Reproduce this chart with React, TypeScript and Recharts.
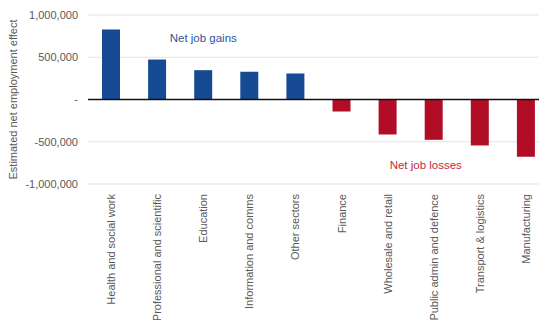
import { Bar, BarChart, CartesianGrid, Cell, ReferenceDot, ReferenceLine, XAxis, YAxis } from "recharts"

const sectors = [
  "Health and social work",
  "Professional and scientific",
  "Education",
  "Information and comms",
  "Other sectors",
  "Finance",
  "Wholesale and retail",
  "Public admin and defence",
  "Transport & logistics",
  "Manufacturing",
]

const effects = [828000, 473000, 347000, 328000, 308000, -142000, -414000, -477000, -544000, -678000]

const yTicks = [-1000000, -500000, 0, 500000, 1000000]

const data = sectors.map((name, i) => ({ name, value: effects[i] }))

const font = "'Liberation Sans', Arial, sans-serif"

const XTick = (props: any) => {
  const { x, y, payload } = props
  return (
    <text
      x={x}
      y={y + 2}
      transform={`rotate(-90, ${x}, ${y + 2})`}
      textAnchor="end"
      dominantBaseline="central"
      fontSize={11}
      fontFamily={font}
      fill="#595959"
    >
      {payload.value}
    </text>
  )
}

const YLabel = (props: any) => {
  const vb = props.viewBox
  const cx = vb.x + 13
  const cy = vb.y + vb.height / 2
  return (
    <text
      x={cx}
      y={cy}
      transform={`rotate(-90, ${cx}, ${cy})`}
      textAnchor="middle"
      dominantBaseline="central"
      fontSize={11}
      fontFamily={font}
      fill="#595959"
    >
      Estimated net employment effect
    </text>
  )
}

export default function App() {
  return (
    <div style={{ position: "fixed", left: 0, top: 0, width: 539, height: 320, overflow: "hidden", background: "#fff" }}>
      <BarChart width={550} height={320} data={data} margin={{ top: 15, right: 1, bottom: 0, left: 0 }} barSize={18}>
        <CartesianGrid vertical={false} stroke="#e3e3e3" />
        <XAxis
          dataKey="name"
          interval={0}
          height={136}
          axisLine={false}
          tickLine={false}
          tick={<XTick />}
        />
        <YAxis
          width={88}
          domain={[-1000000, 1000000]}
          ticks={yTicks}
          axisLine={false}
          tickLine={false}
          tickMargin={4}
          tick={{ fontSize: 11, fill: "#595959", fontFamily: font }}
          tickFormatter={(v: number) => (v === 0 ? "-" : v.toLocaleString("en-US"))}
          label={<YLabel />}
        />
        <Bar dataKey="value" isAnimationActive={false}>
          {data.map((d, i) => (
            <Cell key={i} fill={d.value >= 0 ? "#164a92" : "#b10d26"} />
          ))}
        </Bar>
        <ReferenceLine y={0} stroke="#111" strokeWidth={1.5} />
        <ReferenceDot
          x="Education"
          y={730000}
          r={0}
          label={{ value: "Net job gains", position: "center", fill: "#2f5597", fontSize: 11.5, fontFamily: font }}
        />
        <ReferenceDot
          x="Public admin and defence"
          y={-780000}
          r={0}
          label={{ value: "Net job losses", position: "center", fill: "#c0283f", fontSize: 11.5, fontFamily: font, dx: -8 }}
        />
      </BarChart>
    </div>
  )
}
